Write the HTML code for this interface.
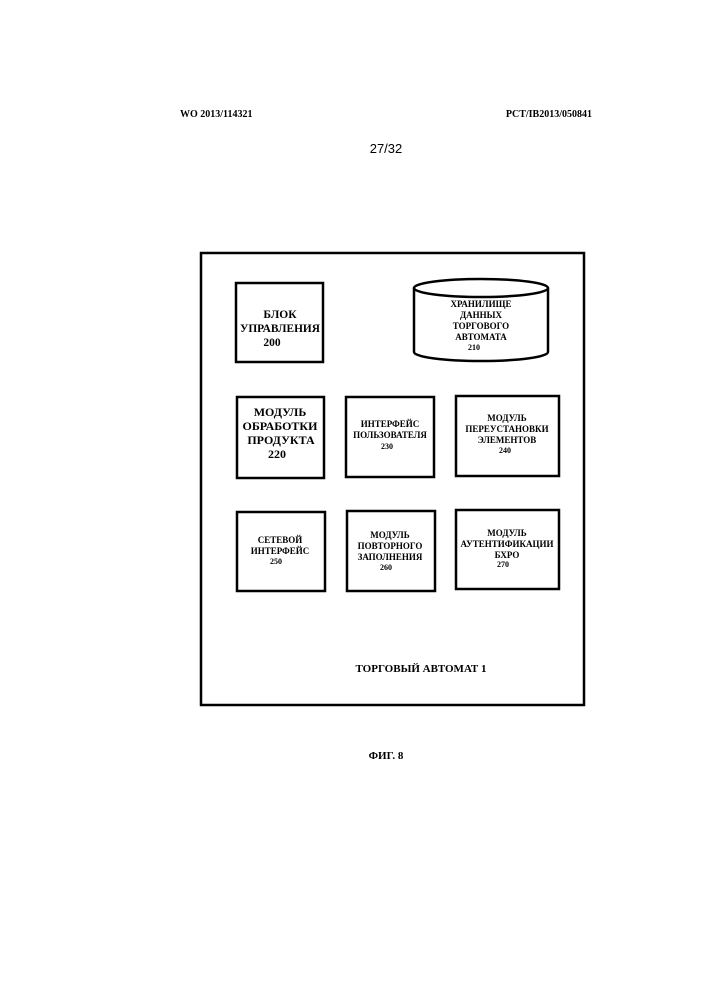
<!DOCTYPE html>
<html><head><meta charset="utf-8"><style>
html,body{margin:0;padding:0;background:#fff}
svg{display:block}
text{font-family:"Liberation Serif",serif;font-weight:bold;fill:#000}
</style></head><body>
<svg width="707" height="1000" viewBox="0 0 707 1000" xmlns="http://www.w3.org/2000/svg">
<text x="180" y="117" font-size="10">WO 2013/114321</text>
<text x="592" y="117" font-size="10" text-anchor="end">PCT/IB2013/050841</text>
<text x="386" y="153" font-size="13" style="font-family:'Liberation Sans',sans-serif;font-weight:normal" text-anchor="middle">27/32</text>

<g fill="none" stroke="#000" stroke-width="2.5">
<rect x="201" y="253" width="383" height="452"/>
<rect x="236" y="283" width="87" height="79"/>
<rect x="237" y="397" width="87" height="81"/>
<rect x="346" y="397" width="88" height="80"/>
<rect x="456" y="396" width="103" height="80"/>
<rect x="237" y="512" width="88" height="79"/>
<rect x="347" y="511" width="88" height="80"/>
<rect x="456" y="510" width="103" height="79"/>
<path d="M414 288 L414 352 A67 9 0 0 0 548 352 L548 288"/>
<ellipse cx="481" cy="288" rx="67" ry="9"/>
</g>

<g text-anchor="middle">
<text x="280" y="318" font-size="11.5">БЛОК</text>
<text x="280" y="332" font-size="11.5" textLength="80" lengthAdjust="spacingAndGlyphs">УПРАВЛЕНИЯ</text>
<text x="272" y="346" font-size="11.5">200</text>

<text x="481" y="307" font-size="9">ХРАНИЛИЩЕ</text>
<text x="481" y="318" font-size="9">ДАННЫХ</text>
<text x="481" y="329" font-size="9">ТОРГОВОГО</text>
<text x="481" y="340" font-size="9">АВТОМАТА</text>
<text x="474" y="350" font-size="8">210</text>

<text x="280" y="416" font-size="12">МОДУЛЬ</text>
<text x="280" y="430" font-size="12">ОБРАБОТКИ</text>
<text x="281" y="444" font-size="12">ПРОДУКТА</text>
<text x="277" y="458" font-size="12">220</text>

<text x="390" y="427" font-size="9">ИНТЕРФЕЙС</text>
<text x="390" y="438" font-size="9">ПОЛЬЗОВАТЕЛЯ</text>
<text x="387" y="449" font-size="8">230</text>

<text x="507" y="421" font-size="9">МОДУЛЬ</text>
<text x="507" y="432" font-size="9">ПЕРЕУСТАНОВКИ</text>
<text x="507" y="443" font-size="9">ЭЛЕМЕНТОВ</text>
<text x="505" y="453" font-size="8">240</text>

<text x="280" y="543" font-size="9">СЕТЕВОЙ</text>
<text x="280" y="554" font-size="9">ИНТЕРФЕЙС</text>
<text x="276" y="564" font-size="8">250</text>

<text x="390" y="538" font-size="9">МОДУЛЬ</text>
<text x="390" y="549" font-size="9">ПОВТОРНОГО</text>
<text x="390" y="560" font-size="9">ЗАПОЛНЕНИЯ</text>
<text x="386" y="570" font-size="8">260</text>

<text x="507" y="536" font-size="9">МОДУЛЬ</text>
<text x="507" y="547" font-size="9">АУТЕНТИФИКАЦИИ</text>
<text x="507" y="558" font-size="9">БХРО</text>
<text x="503" y="567" font-size="8">270</text>

<text x="421" y="672" font-size="11">ТОРГОВЫЙ АВТОМАТ 1</text>
<text x="386" y="759" font-size="11">ФИГ. 8</text>
</g>
</svg>
</body></html>
